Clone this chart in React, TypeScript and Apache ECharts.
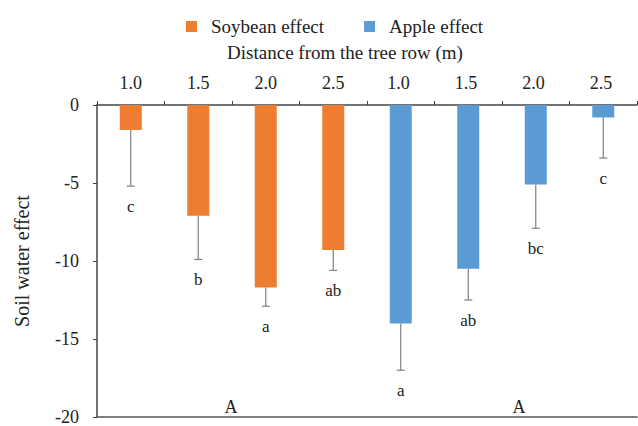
import React, { useEffect, useRef } from "react";
import * as echarts from "echarts";

const categories = ["1.0", "1.5", "2.0", "2.5", "1.0 ", "1.5 ", "2.0 ", "2.5 "];
const soybeanValues: (number | string)[] = [-1.6, -7.1, -11.7, -9.3, "-", "-", "-", "-"];
const appleValues: (number | string)[] = ["-", "-", "-", "-", -14.0, -10.5, -5.1, -0.8];
const errorEnds = [-5.2, -9.9, -12.9, -10.6, -17.0, -12.5, -7.9, -3.4];
const letters = ["c", "b", "a", "ab", "a", "ab", "bc", "c"];
const barValues = [-1.6, -7.1, -11.7, -9.3, -14.0, -10.5, -5.1, -0.8];
const groupLabels = ["A", "A"];
const xTitle = "Distance from the tree row (m)";

const FONT = "Liberation Serif";

export default function App() {
  const ref = useRef<HTMLDivElement>(null);
  useEffect(() => {
    if (!ref.current) return;
    const chart = echarts.init(ref.current, undefined, { renderer: "svg" });
    const errData = barValues.map((v, i) => [i, v, errorEnds[i], letters[i]]);
    chart.setOption({
      animation: false,
      backgroundColor: "#fff",
      textStyle: { fontFamily: FONT },
      legend: {
        top: 12,
        left: 181,
        itemWidth: 11,
        itemHeight: 11,
        itemGap: 40,
        icon: "rect",
        textStyle: { fontFamily: FONT, fontSize: 19, color: "#222", padding: [0, 0, 0, 9] },
        data: ["Soybean effect", "Apple effect"],
      },
      grid: { left: 97, top: 105, width: 540, height: 315 },
      xAxis: [
        {
          type: "category",
          position: "top",
          data: categories,
          axisLine: { lineStyle: { color: "#444", width: 1.5 } },
          axisTick: { show: true, length: 4, lineStyle: { color: "#444" } },
          axisLabel: { fontFamily: FONT, fontSize: 18, color: "#222", margin: 13 },
        },
        {
          type: "category",
          position: "bottom",
          data: categories,
          axisLine: { show: true, onZero: false, lineStyle: { color: "#555", width: 1.5 } },
          axisTick: { show: false },
          axisLabel: { show: false },
        },
      ],
      yAxis: {
        type: "value",
        min: -20,
        max: 0,
        interval: 5,
        name: "Soil water effect",
        nameLocation: "middle",
        nameGap: 65,
        nameRotate: 90,
        nameTextStyle: { fontFamily: FONT, fontSize: 20, color: "#222" },
        axisLine: { show: true, lineStyle: { color: "#444", width: 1.5 } },
        axisTick: { show: true, length: 4, lineStyle: { color: "#444" } },
        axisLabel: { fontFamily: FONT, fontSize: 18, color: "#222", margin: 18 },
        splitLine: { show: false },
      },
      series: [
        {
          name: "Soybean effect",
          type: "bar",
          stack: "s",
          barWidth: 22,
          data: soybeanValues,
          itemStyle: { color: "#ED7D31" },
        },
        {
          name: "Apple effect",
          type: "bar",
          stack: "s",
          barWidth: 22,
          data: appleValues,
          itemStyle: { color: "#5B9BD5" },
        },
        {
          type: "custom",
          data: errData,
          z: 10,
          renderItem: (params: any, api: any) => {
            const idx = api.value(0);
            const top = api.coord([idx, api.value(1)]);
            const end = api.coord([idx, api.value(2)]);
            const x = top[0];
            const letter = letters[params.dataIndex];
            return {
              type: "group",
              children: [
                {
                  type: "line",
                  shape: { x1: x, y1: top[1], x2: x, y2: end[1] },
                  style: { stroke: "#808080", lineWidth: 1.2 },
                },
                {
                  type: "line",
                  shape: { x1: x - 4, y1: end[1], x2: x + 4, y2: end[1] },
                  style: { stroke: "#808080", lineWidth: 1.2 },
                },
                {
                  type: "text",
                  x: x,
                  y: end[1] + 20,
                  style: {
                    text: letter,
                    fill: "#222",
                    fontFamily: FONT,
                    fontSize: 17,
                    align: "center",
                    verticalAlign: "middle",
                  },
                },
              ],
            };
          },
        },
      ],
      graphic: [
        {
          type: "text",
          x: 345,
          y: 52,
          style: { text: xTitle, fill: "#222", fontFamily: FONT, fontSize: 19, align: "center", verticalAlign: "middle" },
        },
        {
          type: "text",
          x: 231,
          y: 407,
          style: { text: groupLabels[0], fill: "#222", fontFamily: FONT, fontSize: 18, align: "center", verticalAlign: "middle" },
        },
        {
          type: "text",
          x: 519,
          y: 407,
          style: { text: groupLabels[1], fill: "#222", fontFamily: FONT, fontSize: 18, align: "center", verticalAlign: "middle" },
        },
      ],
    });
    return () => chart.dispose();
  }, []);
  return <div ref={ref} style={{ width: 638, height: 426, position: "absolute", left: 0, top: 0 }} />;
}
